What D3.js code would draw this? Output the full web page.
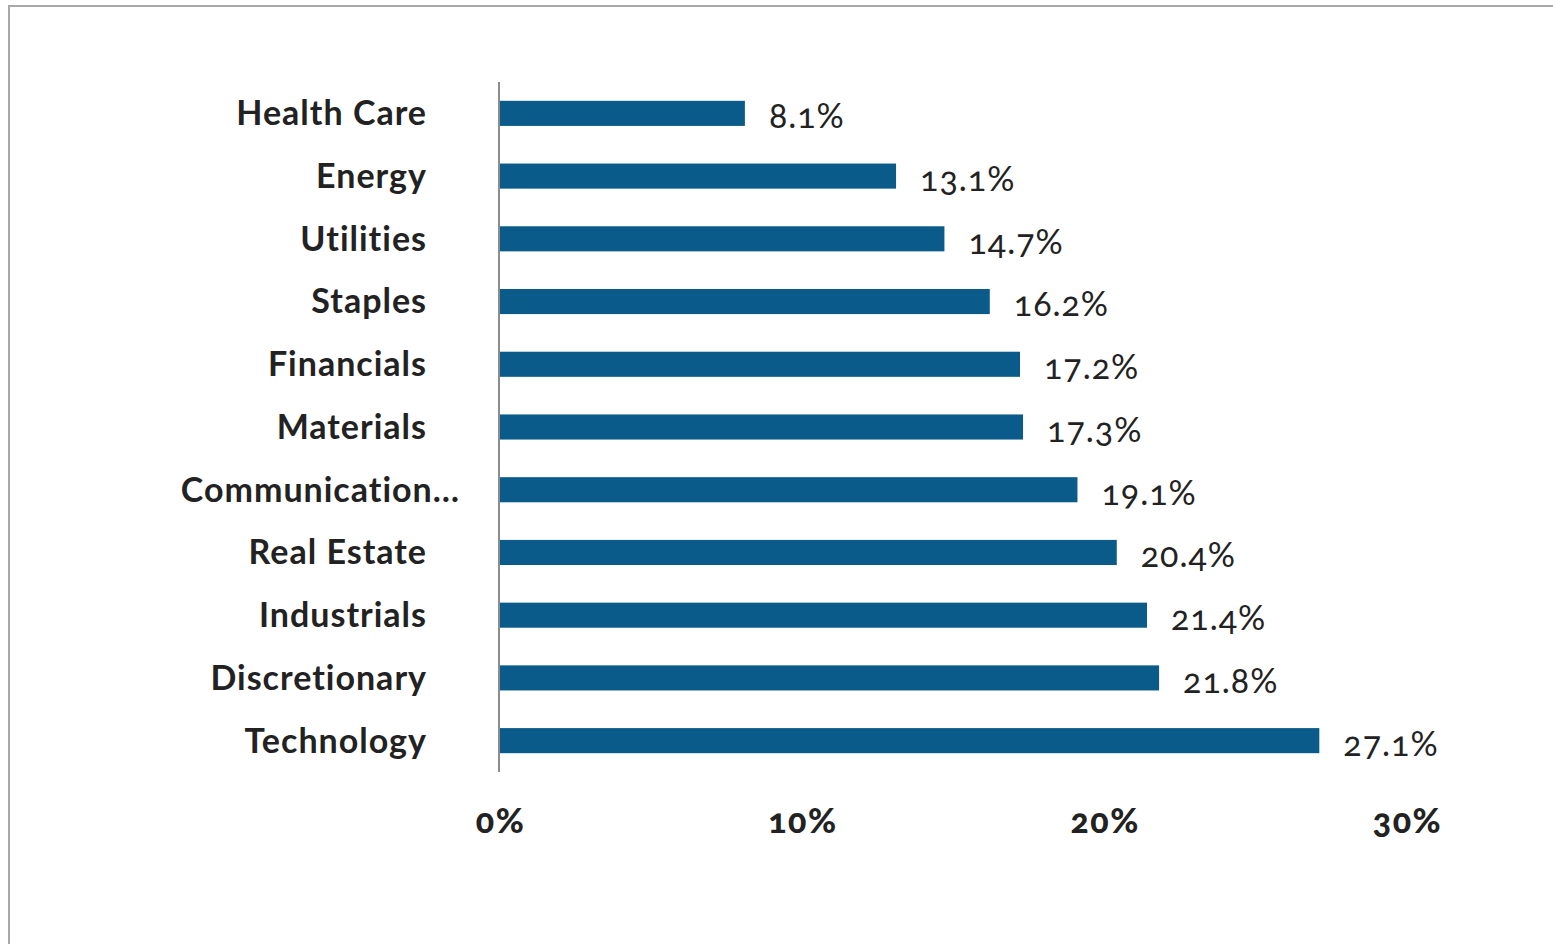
<!DOCTYPE html>
<html><head><meta charset="utf-8">
<script src="https://cdn.jsdelivr.net/npm/d3@7"></script>
<style>
html,body{margin:0;padding:0;background:#fff;}
svg{display:block;}
</style></head>
<body>
<svg id="chart" width="1553" height="944"></svg>
<script>
const categories = ["Health Care","Energy","Utilities","Staples","Financials","Materials","Communication\u2026","Real Estate","Industrials","Discretionary","Technology"];
const values = [8.1,13.1,14.7,16.2,17.2,17.3,19.1,20.4,21.4,21.8,27.1];
const tickValues = [0,10,20,30];

const svg = d3.select("#chart");
const font = "Lato, 'Open Sans', sans-serif";

// frame
svg.append("line").attr("x1",8).attr("x2",1553).attr("y1",6).attr("y2",6).attr("stroke","#a8a8ab").attr("stroke-width",2);
svg.append("line").attr("x1",9).attr("x2",9).attr("y1",6).attr("y2",944).attr("stroke","#a8a8ab").attr("stroke-width",2);

const x = d3.scaleLinear().domain([0,30]).range([500,1407]);
const y = d3.scaleBand().domain(categories).range([82,772]).paddingInner(0.6).paddingOuter(0.3);

// bars
svg.selectAll("rect.bar").data(categories).enter().append("rect")
  .attr("class","bar")
  .attr("x", x(0))
  .attr("y", d=>y(d))
  .attr("width", (d,i)=>x(values[i])-x(0))
  .attr("height", y.bandwidth())
  .attr("fill","#0a5a8a");

// axis line
svg.append("line").attr("x1",499).attr("x2",499).attr("y1",82).attr("y2",772).attr("stroke","#8c8c8c").attr("stroke-width",2);

// category labels
svg.selectAll("text.cat").data(categories).enter().append("text")
  .attr("class","cat")
  .attr("x", d=> d.endsWith("\u2026") ? 460 : 427)
  .attr("y", d=>y(d)+y.bandwidth()/2)
  .attr("dy","0.35em")
  .attr("text-anchor","end")
  .attr("font-family",font).attr("font-weight","bold").attr("font-size",34)
  .attr("letter-spacing",1)
  .attr("fill","#222")
  .text(d=>d);

// value labels
svg.selectAll("text.val").data(categories).enter().append("text")
  .attr("class","val")
  .attr("x",(d,i)=>x(values[i])+24)
  .attr("y", d=>y(d)+y.bandwidth()/2+3)
  .attr("dy","0.35em")
  .attr("font-family",font).attr("font-size",34)
  .attr("letter-spacing",1)
  .style("font-variant-numeric","oldstyle-nums")
  .attr("fill","#222")
  .text((d,i)=>values[i].toFixed(1)+"%");

// x tick labels
const xAxis = d3.axisBottom(x).tickValues(tickValues).tickFormat(d=>d+"%").tickSize(0);
const g = svg.append("g").attr("transform","translate(0,800)").call(xAxis);
g.select(".domain").remove();
g.selectAll("text").attr("font-family",font).attr("font-weight","900").attr("font-size",34).attr("fill","#222").attr("dy","0.71em").attr("y",9)
  .attr("letter-spacing",1.5)
  .style("font-variant-numeric","oldstyle-nums");
</script>
</body></html>
